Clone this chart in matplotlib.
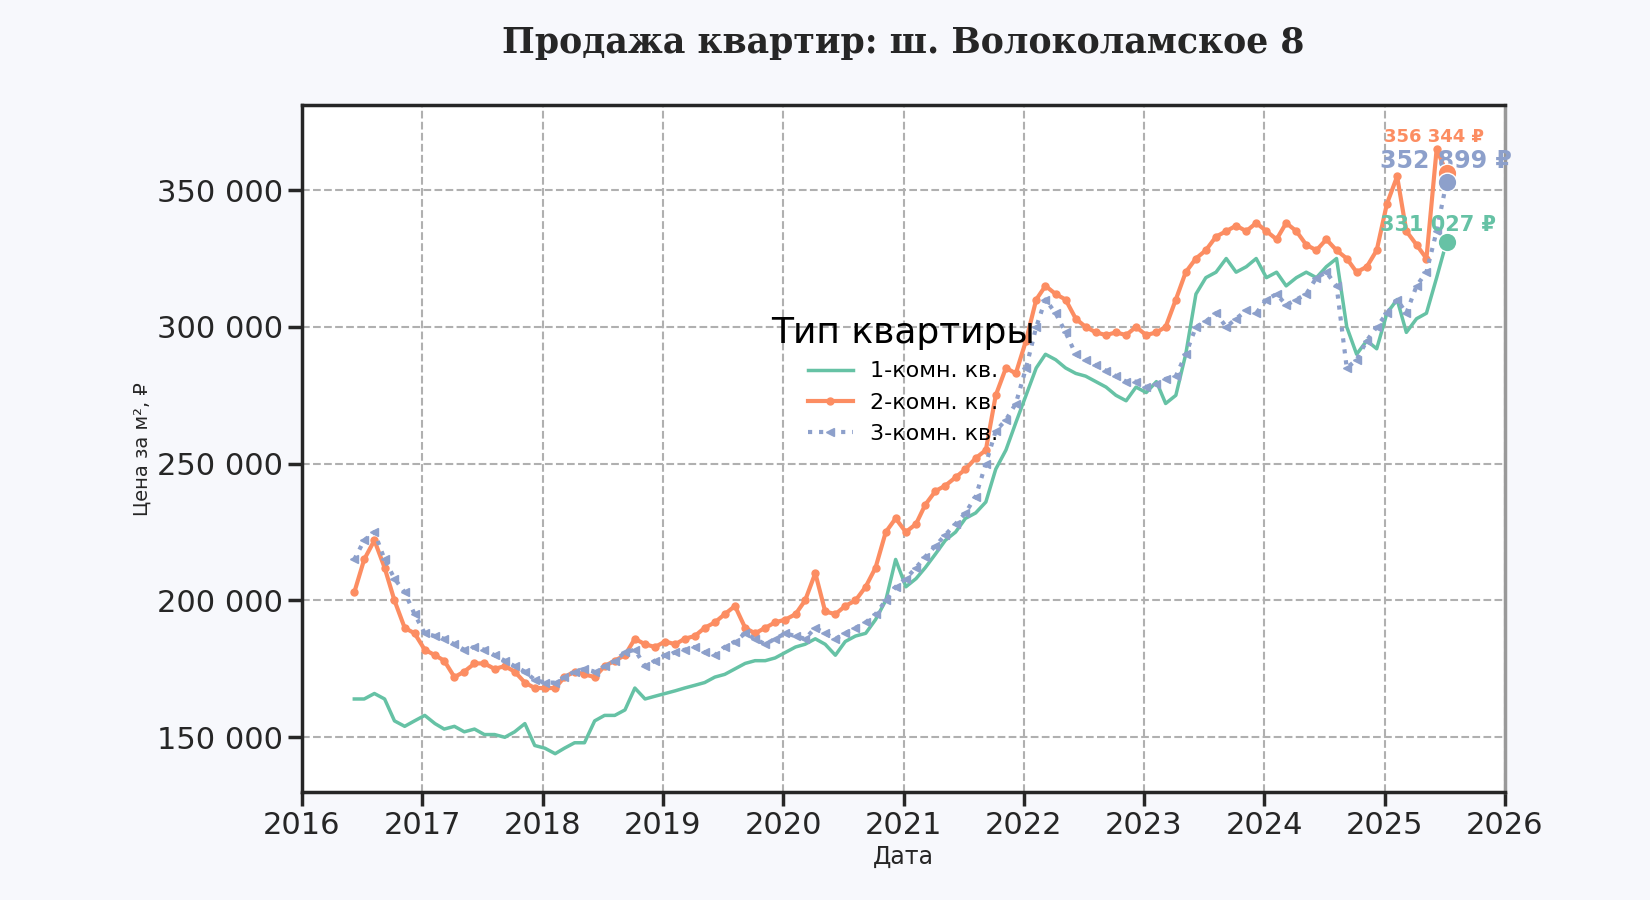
import matplotlib
matplotlib.use("Agg")
import matplotlib.pyplot as plt
import matplotlib.ticker as mticker
import numpy as np
import pandas as pd

START = "2016-06-01"
N_MONTHS = 110

ONE_ROOM = [
    164, 164, 166, 164, 156, 154, 156,
    158, 155, 153, 154, 152, 153, 151, 151, 150, 152, 155, 147,
    146, 144, 146, 148, 148, 156, 158, 158, 160, 168, 164, 165,
    166, 167, 168, 169, 170, 172, 173, 175, 177, 178, 178, 179,
    181, 183, 184, 186, 184, 180, 185, 187, 188, 193, 200, 215,
    205, 208, 212, 217, 222, 225, 230, 232, 236, 248, 255, 265,
    275, 285, 290, 288, 285, 283, 282, 280, 278, 275, 273, 278,
    276, 280, 272, 275, 290, 312, 318, 320, 325, 320, 322, 325,
    318, 320, 315, 318, 320, 318, 322, 325, 300, 290, 295, 292,
    305, 310, 298, 303, 305, 318, 331.027,
]
TWO_ROOM = [
    203, 215, 222, 212, 200, 190, 188,
    182, 180, 178, 172, 174, 177, 177, 175, 176, 174, 170, 168,
    168, 168, 172, 174, 173, 172, 176, 178, 180, 186, 184, 183,
    185, 184, 186, 187, 190, 192, 195, 198, 190, 188, 190, 192,
    193, 195, 200, 210, 196, 195, 198, 200, 205, 212, 225, 230,
    225, 228, 235, 240, 242, 245, 248, 252, 255, 275, 285, 283,
    295, 310, 315, 312, 310, 303, 300, 298, 297, 298, 297, 300,
    297, 298, 300, 310, 320, 325, 328, 333, 335, 337, 335, 338,
    335, 332, 338, 335, 330, 328, 332, 328, 325, 320, 322, 328,
    345, 355, 335, 330, 325, 365, 356.344,
]
THREE_ROOM = [
    215, 222, 225, 215, 208, 203, 195,
    188, 187, 186, 184, 182, 183, 182, 180, 178, 176, 174, 171,
    170, 170, 172, 174, 175, 174, 176, 178, 181, 182, 176, 178,
    180, 181, 182, 183, 181, 180, 183, 185, 188, 186, 184, 186,
    188, 187, 186, 190, 188, 186, 188, 190, 192, 195, 200, 205,
    208, 212, 216, 220, 224, 228, 232, 238, 250, 262, 266, 272,
    285, 300, 310, 305, 298, 290, 288, 286, 284, 282, 280, 280,
    278, 279, 281, 282, 290, 300, 302, 305, 300, 303, 306, 305,
    310, 312, 308, 310, 312, 318, 320, 315, 285, 288, 295, 300,
    305, 310, 305, 315, 320, 335, 352.899,
]
LABELS = ["1-комн. кв.", "2-комн. кв.", "3-комн. кв."]
COLORS = ["#66c2a5", "#fc8d62", "#8da0cb"]


def fmt_space(v, _=None):
    return f"{int(round(v)):,}".replace(",", " ")


def main():
    dates = pd.date_range(START, periods=N_MONTHS, freq="MS") + pd.Timedelta(days=7)
    series = [np.array(s) * 1000 for s in (ONE_ROOM, TWO_ROOM, THREE_ROOM)]

    fig = plt.figure(figsize=(16.5, 9), dpi=100, facecolor="#f7f8fc")
    ax = fig.add_axes([0.183, 0.12, 0.729, 0.763])
    ax.set_facecolor("white")

    ax.plot(dates, series[0], color=COLORS[0], lw=2.5, label=LABELS[0])
    ax.plot(dates, series[1], color=COLORS[1], lw=3, marker="o", ms=5, label=LABELS[1])
    ax.plot(dates, series[2], color=COLORS[2], lw=3, ls=":", marker="<", ms=6, label=LABELS[2])

    offsets = [(-48, 8), (-45, 22), (-48, 10)]
    sizes = [15, 13, 17]
    for s, c, off, fs in zip(series, COLORS, offsets, sizes):
        ax.scatter(dates[-1], s[-1], s=180, color=c, zorder=5, edgecolors="white")
        ax.annotate(f"{fmt_space(s[-1])} ₽", (dates[-1], s[-1]), xytext=off,
                    textcoords="offset points", color=c, fontsize=fs, fontweight="bold")

    ax.set_xlim(pd.Timestamp("2016-01-01"), pd.Timestamp("2026-01-01"))
    ax.set_ylim(130000, 381000)
    ax.yaxis.set_major_locator(mticker.MultipleLocator(50000))
    ax.yaxis.set_major_formatter(mticker.FuncFormatter(fmt_space))
    ax.grid(True, ls="--", lw=1.5, color="#b0b0b0")
    ax.tick_params(labelsize=22, length=10, width=2.5, colors="#262626")

    for side in ["left", "bottom", "top"]:
        ax.spines[side].set_linewidth(2.5)
        ax.spines[side].set_color("#262626")
    ax.spines["right"].set_linewidth(2.5)
    ax.spines["right"].set_color("#999999")

    ax.set_xlabel("Дата", fontsize=17, color="#262626")
    ax.set_ylabel("Цена за м², ₽", fontsize=14, color="#262626")
    ax.set_title("Продажа квартир: ш. Волоколамское 8", fontsize=25,
                 fontweight="bold", family="DejaVu Serif", pad=38, color="#262626")

    ax.legend(title="Тип квартиры", loc="center", bbox_to_anchor=(0.5, 0.6),
              frameon=False, fontsize=16, title_fontsize=26)
    fig.savefig("out.png", facecolor=fig.get_facecolor())
    plt.close(fig)


if __name__ == "__main__":
    main()
